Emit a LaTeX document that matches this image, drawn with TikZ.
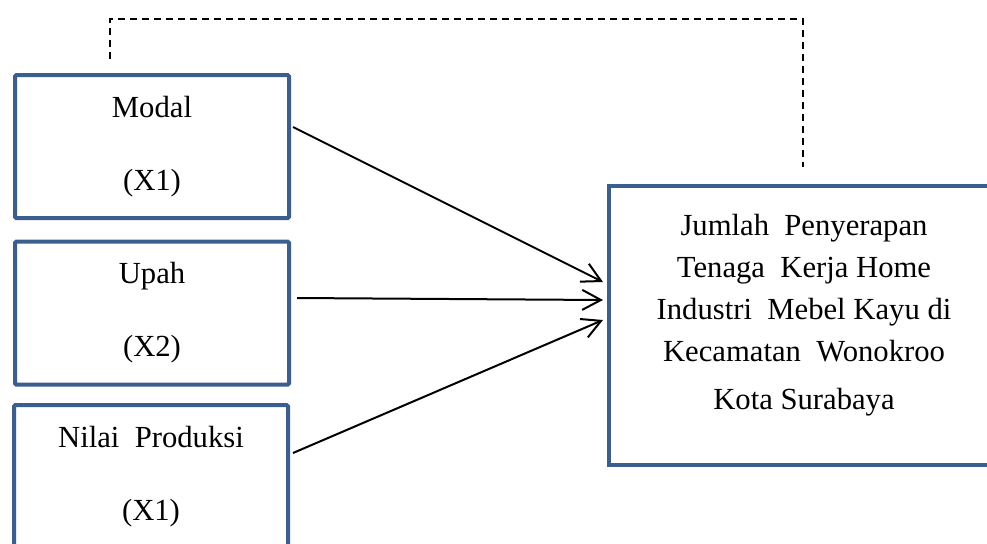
\documentclass[tikz,border=0pt]{standalone}
\usepackage{fontspec}
\setmainfont{Liberation Serif}
\usepackage{xcolor}
\usetikzlibrary{positioning, arrows.meta, calc}
\definecolor{boxblue}{HTML}{3A5F8F}

\begin{document}
\begin{tikzpicture}[
    x=0.75pt, y=-0.75pt,
    varbox/.style={draw=boxblue, line width=3pt, rounded corners=1pt, minimum width=205.5pt, minimum height=107.25pt, inner sep=0pt, align=center, font=\fontsize{23}{54.75}\selectfont},
    resbox/.style={draw=boxblue, line width=3pt, minimum width=292.5pt, minimum height=209.25pt},
    restext/.style={align=center, font=\fontsize{23}{31.5}\selectfont},
    effect/.style={-{Straight Barb[length=14pt,width=15pt]}, line width=1.5pt},
    feedback/.style={dash pattern=on 5pt off 4pt, line width=1.1pt}
]
    \useasboundingbox (0,0) rectangle (987,543);
    \clip (0,0) rectangle (987,543);

    % variabel bebas
    \node[varbox] (modal) at (152,146.5) {Modal\\(X1)};
    \node[varbox] (upah) at (152,313) {Upah\\(X2)};
    \node[varbox] (nilai) at (151,476.5) {Nilai\ \ Produksi\\(X1)};

    % variabel terikat
    \node[resbox] (tk) at (804,325.5) {};
    \node[restext] (tktext) at ($(tk.center)+(0,-10)$) {Jumlah\ \ Penyerapan\\Tenaga\ \ Kerja Home\\Industri\ \ Mebel Kayu di\\Kecamatan\ \ Wonokroo\\[4.5pt]Kota Surabaya};

    % pengaruh
    \draw[effect] ($(modal.east)+(2,-19.5)$) -- ($(tk.west)+(-4,-43.5)$);
    \draw[effect] ($(upah.east)+(6,-15)$) -- ($(tk.west)+(-4,-25.5)$);
    \draw[effect] ($(nilai.east)+(3,-23.5)$) -- ($(tk.west)+(-4,-5.5)$);

    % garis putus-putus
    \coordinate (fbstart) at ($(modal.north)+(-42,-14)$);
    \coordinate (fbend) at ($(tk.north)+(-1,-17)$);
    \draw[feedback] (fbstart) |- ($(fbend)+(0,-148)$) -- (fbend);
\end{tikzpicture}
\end{document}
